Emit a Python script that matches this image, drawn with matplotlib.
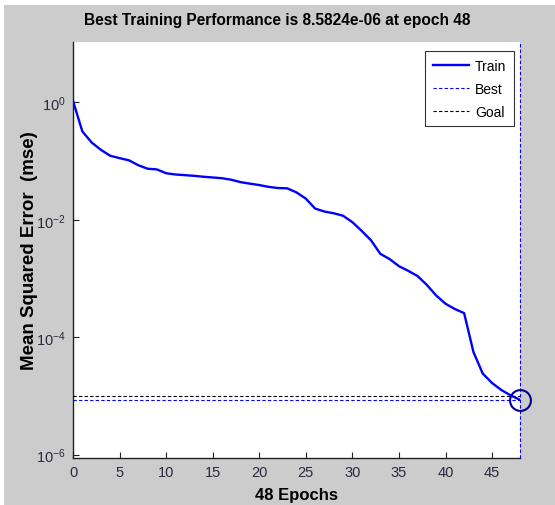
import numpy as np
import matplotlib
matplotlib.use("Agg")
import matplotlib.pyplot as plt
from matplotlib.patches import Rectangle
from matplotlib.ticker import FixedLocator, FuncFormatter, NullLocator

plt.rcParams['font.family'] = ['Liberation Sans', 'DejaVu Sans']
plt.rcParams['mathtext.fontset'] = 'custom'
plt.rcParams['mathtext.rm'] = 'Liberation Sans'
plt.rcParams['mathtext.it'] = 'Liberation Sans:italic'
plt.rcParams['mathtext.bf'] = 'Liberation Sans:bold'

# Training record
epochs = list(range(0, 49))
train_mse = [
    1.06, 0.32, 0.207, 0.155, 0.123, 0.112, 0.103, 0.085, 0.074, 0.072,
    0.062, 0.059, 0.0575, 0.056, 0.054, 0.0525, 0.051, 0.048, 0.0437, 0.0412,
    0.039, 0.0363, 0.0347, 0.0343, 0.0292, 0.0229, 0.0155, 0.0138, 0.0129, 0.0117,
    0.0091, 0.00646, 0.00447, 0.00263, 0.00214, 0.00162, 0.00135, 0.0011, 7.76e-4, 5.13e-4,
    3.72e-4, 3.02e-4, 2.57e-4, 5.6e-5, 2.4e-5, 1.66e-5, 1.26e-5, 1.02e-5, 8.5824e-6,
]
best_epoch = 48
best_perf = 8.5824e-6
goal = 1e-5
x_ticks = [0, 5, 10, 15, 20, 25, 30, 35, 40, 45]
y_ticks = [1e-6, 1e-4, 1e-2, 1e0]

fig = plt.figure(figsize=(5.55, 5.06), dpi=100, facecolor='white')
fig.patches.append(Rectangle((4 / 555, 0), 1, 1 - 6 / 506, transform=fig.transFigure,
                             facecolor='#cccccc', edgecolor='none', zorder=-10))

ax = fig.add_axes([73 / 555, 47 / 506, 447 / 555, 416 / 506])
ax.set_facecolor('white')

blue = '#0000ff'
navy = '#00008c'

ax.semilogy(epochs, train_mse, color=blue, lw=1.7, label='Train', zorder=4,
            solid_joinstyle='round')
ax.plot([0, best_epoch], [best_perf, best_perf], color=blue, lw=0.8,
        ls=(0, (3, 2)), label='Best', zorder=3)
ax.plot([0, best_epoch], [goal, goal], color='black', lw=0.8,
        ls=(0, (3, 2)), label='Goal', zorder=3)
ylo, yhi = 10 ** -6.057, 10 ** 1.027
ax.plot([best_epoch, best_epoch], [ylo, yhi], color=blue, lw=0.8,
        ls=(0, (3, 2)), zorder=3, clip_on=False)
ax.plot([best_epoch], [best_perf], 'o', ms=15, mfc='none', mec=navy, mew=1.5,
        zorder=5, clip_on=False)

ax.set_xlim(0, 48)
ax.set_ylim(ylo, yhi)

ax.xaxis.set_major_locator(FixedLocator(x_ticks))
ax.yaxis.set_major_locator(FixedLocator(y_ticks))
ax.yaxis.set_minor_locator(NullLocator())
ax.yaxis.set_major_formatter(FuncFormatter(lambda v, p: r'$10^{%d}$' % round(np.log10(v))))

for side in ['top', 'right']:
    ax.spines[side].set_visible(False)
for side in ['left', 'bottom']:
    ax.spines[side].set_color('#222222')
    ax.spines[side].set_linewidth(1.0)

ax.tick_params(direction='in', length=4, width=0.8, colors='#222222',
               labelsize=10.5, labelcolor='#2a2a3a', pad=5)

# Title is centred on the whole figure, not just the axes
fig.text(0.5, 1 - 20 / 506, 'Best Training Performance is 8.5824e-06 at epoch 48',
         fontsize=11.2, fontweight='bold', ha='center', va='center')
ax.set_xlabel('48 Epochs', fontsize=12, fontweight='bold', labelpad=6)
ax.set_ylabel('Mean Squared Error  (mse)', fontsize=13.5, fontweight='bold')
ax.yaxis.set_label_coords(-35 / 447, 0.5)

leg = ax.legend(loc='upper right', bbox_to_anchor=(0.987, 0.978), fontsize=10,
                frameon=True, fancybox=False, handlelength=2.6, handletextpad=0.45,
                labelspacing=0.65, borderpad=0.55, borderaxespad=0)
leg.get_frame().set_edgecolor('black')
leg.get_frame().set_linewidth(0.8)

fig.savefig('out.png', dpi=100, facecolor=fig.get_facecolor())
